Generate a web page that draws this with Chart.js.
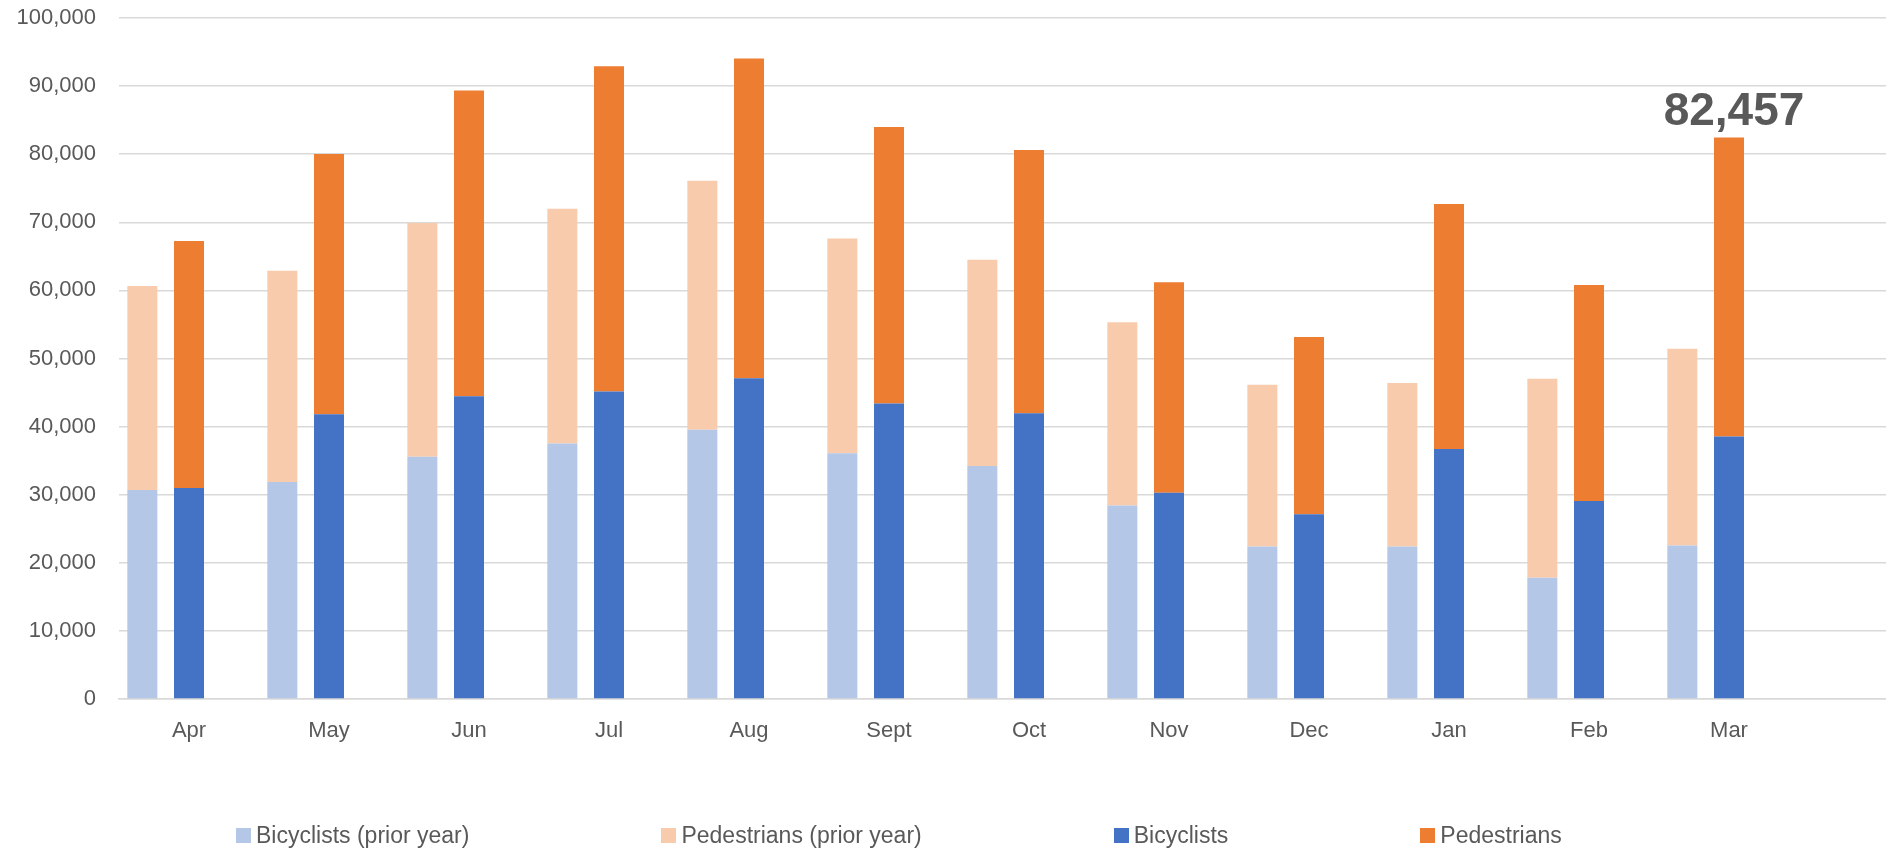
<!DOCTYPE html>
<html>
<head>
<meta charset="utf-8">
<script src="https://cdn.jsdelivr.net/npm/chart.js@4"></script>
<style>
  html, body { margin: 0; padding: 0; background: #fff; overflow: hidden; }
  #wrap { position: relative; width: 1886px; height: 851px; overflow: hidden; }
  #chart { position: absolute; left: 0; top: 0; }
  #legend {
    position: absolute; left: 236px; top: 822px;
    display: flex; gap: 192px; align-items: center;
    font-family: "Liberation Sans", Arial, sans-serif; font-size: 23px; color: #595959;
  }
  .item { display: flex; align-items: center; white-space: nowrap; }
  .box { width: 15px; height: 15px; margin-right: 5px; }
</style>
</head>
<body>
<div id="wrap">
  <canvas id="chart" width="1939" height="851"></canvas>
  <div id="legend"></div>
</div>
<script>
// --- datos ---
const months = ['Apr', 'May', 'Jun', 'Jul', 'Aug', 'Sept', 'Oct', 'Nov', 'Dec', 'Jan', 'Feb', 'Mar'];
const bikesPrior = [30700, 31850, 35560, 37520, 39540, 36100, 34210, 28410, 22400, 22400, 17810, 22540];
const pedsPrior  = [29950, 31050, 34340, 34480, 36570, 31510, 30300, 26920, 23750, 24020, 29220, 28880];
const bikes      = [31000, 41800, 44470, 45140, 47100, 43390, 41970, 30300, 27130, 36710, 29080, 38530];
const peds       = [36270, 38230, 44870, 47770, 46960, 40620, 38660, 30900, 26040, 35960, 31720, 43927];
const yTicks = [0, 10000, 20000, 30000, 40000, 50000, 60000, 70000, 80000, 90000, 100000];

const textColor = '#595959';
const gridColor = '#d9d9d9';
const fontFamily = '"Liberation Sans", Arial, sans-serif';

// empty trailing slot so the plot area runs past the last month like the original
const labels = [...months, ''];

const datasets = [
    { label: 'Bicyclists (prior year)', data: bikesPrior, backgroundColor: '#B4C7E7', stack: 'prior' },
    { label: 'Pedestrians (prior year)', data: pedsPrior, backgroundColor: '#F8CBAD', stack: 'prior' },
    { label: 'Bicyclists', data: bikes, backgroundColor: '#4472C4', stack: 'current' },
    { label: 'Pedestrians', data: peds, backgroundColor: '#ED7D31', stack: 'current' },
    // spacer stack: keeps the gap between month groups
    { label: '', data: months.map(() => null), backgroundColor: 'rgba(0,0,0,0)', stack: 'gap' }
];

// total label above the last current-year bar
const totalLabel = {
    id: 'totalLabel',
    afterDatasetsDraw(chart) {
        const last = months.length - 1;
        const bar = chart.getDatasetMeta(3).data[last];
        const total = bikes[last] + peds[last];
        const ctx = chart.ctx;
        ctx.save();
        ctx.font = 'bold 46px ' + fontFamily;
        ctx.fillStyle = textColor;
        ctx.textAlign = 'center';
        ctx.textBaseline = 'alphabetic';
        ctx.fillText(total.toLocaleString('en-US'), bar.x + 5, bar.y - 12);
        ctx.restore();
    }
};

const chart = new Chart(document.getElementById('chart'), {
    type: 'bar',
    data: { labels: labels, datasets: datasets },
    options: {
        responsive: false,
        devicePixelRatio: 1,
        animation: false,
        layout: { padding: { top: 18, left: 0, right: 0, bottom: 0 } },
        datasets: { bar: { categoryPercentage: 1, barPercentage: 0.643 } },
        plugins: {
            legend: { display: false },
            tooltip: { enabled: false }
        },
        scales: {
            x: {
                stacked: true,
                grid: { display: false },
                border: { color: gridColor, width: 1.5 },
                ticks: {
                    color: textColor, font: { family: fontFamily, size: 22 },
                    padding: 11, autoSkip: false, maxRotation: 0
                },
                afterFit(scale) { scale.height = 152; }
            },
            y: {
                stacked: true,
                min: 0, max: 100000,
                afterBuildTicks(scale) { scale.ticks = yTicks.map(v => ({ value: v })); },
                grid: { color: gridColor, lineWidth: 1.5, drawTicks: false },
                border: { display: false },
                ticks: {
                    color: textColor, font: { family: fontFamily, size: 22 },
                    padding: 23,
                    callback: v => v.toLocaleString('en-US')
                },
                afterFit(scale) {
                    scale.width = 119;
                    scale.paddingTop = 0;
                    scale.paddingBottom = 0;
                }
            }
        }
    },
    plugins: [totalLabel]
});

// leyenda en HTML
const legendEl = document.getElementById('legend');
datasets.slice(0, 4).forEach(ds => {
    const item = document.createElement('div');
    item.className = 'item';
    item.innerHTML = `<span class="box" style="background:${ds.backgroundColor}"></span><span>${ds.label}</span>`;
    legendEl.appendChild(item);
});
</script>
</body>
</html>
